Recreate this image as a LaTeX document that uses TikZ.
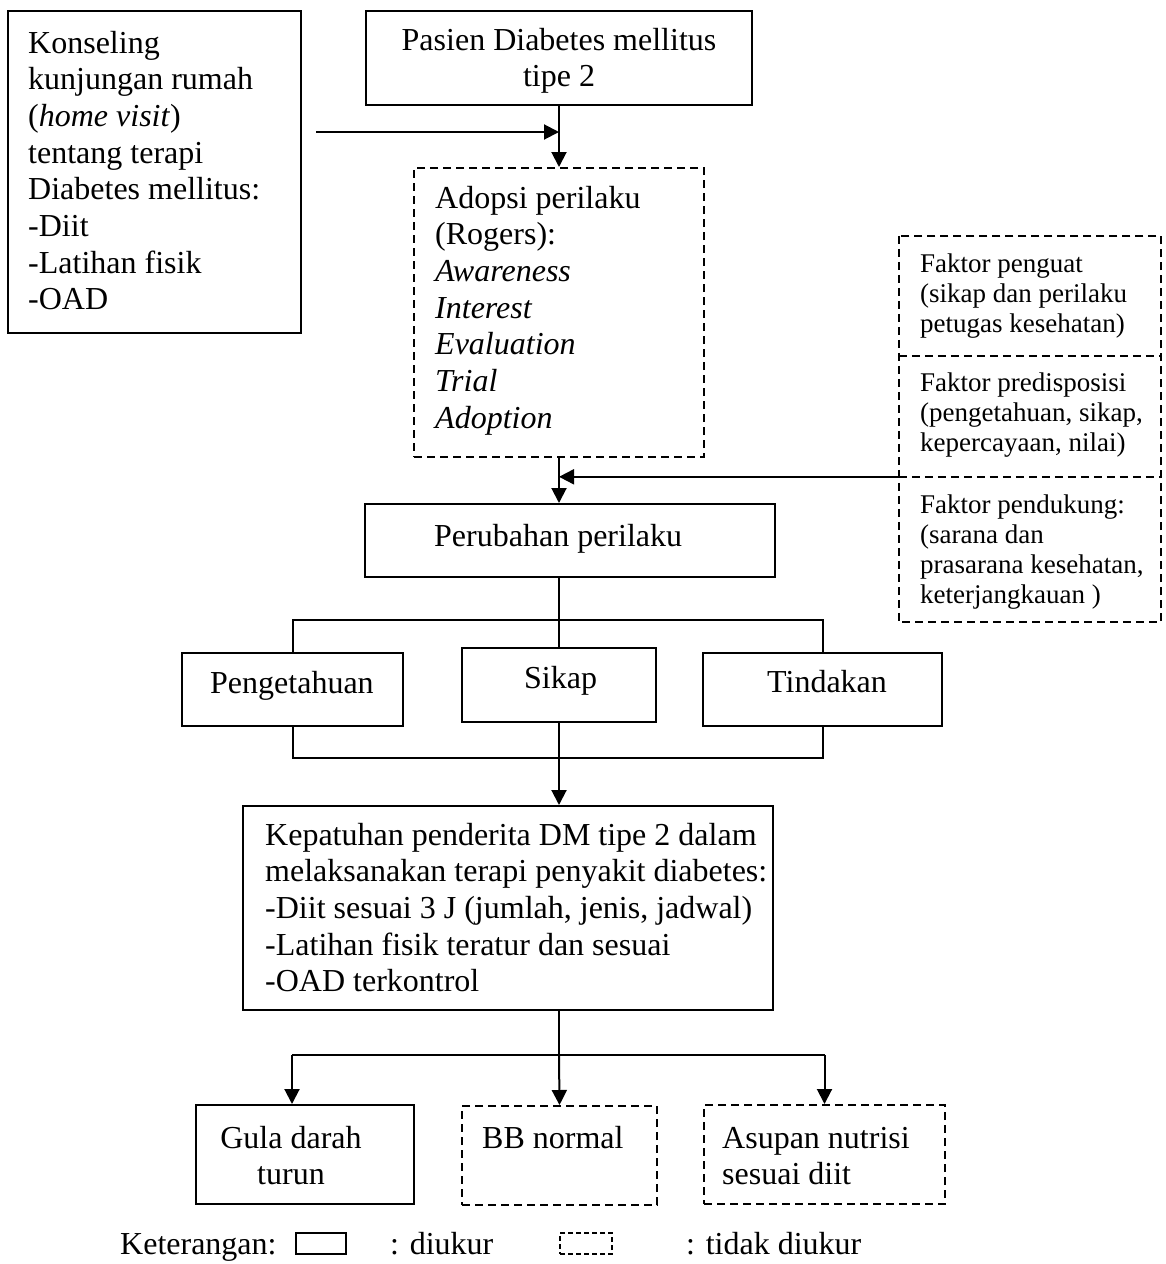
\documentclass[tikz,border=0pt]{standalone}
\usepackage{fontspec}
\setmainfont{Liberation Serif}
\usetikzlibrary{arrows.meta,fit}
\newcommand{\linesL}[1]{\begin{tabular}[t]{@{}l@{}}#1\end{tabular}}
\newcommand{\linesC}[1]{\begin{tabular}[t]{@{}c@{}}#1\end{tabular}}
\begin{document}
\begin{tikzpicture}[x=1pt,y=-1pt,
  sbox/.style={draw, line width=2pt, inner sep=0pt},
  dbox/.style={draw, line width=2pt, inner sep=0pt, dash pattern=on 8pt off 5pt},
  smalldbox/.style={draw, line width=1.6pt, inner sep=0pt, dash pattern=on 5pt off 3pt},
  hidden/.style={inner sep=0pt},
  ln/.style={line width=2pt},
  dln/.style={line width=2pt, dash pattern=on 8pt off 5pt},
  arr/.style={line width=2pt, -{Triangle[width=15pt,length=15pt]}},
  tl/.style={anchor=base west, inner sep=0pt, font={\fontsize{32}{36.7}\selectfont}},
  tc/.style={anchor=base, inner sep=0pt, font={\fontsize{32}{36.7}\selectfont}},
  ts/.style={anchor=base west, inner sep=0pt, font={\fontsize{27}{30}\selectfont}},
]
\fill[white] (0,0) rectangle (1166,1264);
\useasboundingbox (0,0) rectangle (1166,1264);

% boxes
\node[sbox, fit={(8,11)(301,333)}] (konsel) {};
\node[sbox, fit={(366,11)(752,105)}] (pasien) {};
\node[dbox, fit={(414,168)(704,457)}] (adopsi) {};
\node[hidden, fit={(899,236)(1161,356)}] (f1) {};
\node[hidden, fit={(899,356)(1161,477)}] (f2) {};
\node[hidden, fit={(899,477)(1161,622)}] (f3) {};
\draw[dln] (f1.north west) rectangle (f3.south east);
\draw[dln] (f1.south west) -- (f1.south east);
\draw[dln] (f2.south west) -- (f2.south east);
\node[sbox, fit={(365,504)(775,577)}] (perub) {};
\node[sbox, fit={(182,653)(403,726)}] (peng) {};
\node[sbox, fit={(462,648)(656,722)}] (sikap) {};
\node[sbox, fit={(703,653)(942,726)}] (tind) {};
\node[sbox, fit={(243,806)(773,1010)}] (kepat) {};
\node[sbox, fit={(196,1105)(414,1204)}] (gula) {};
\node[dbox, fit={(462,1106)(657,1205)}] (bb) {};
\node[dbox, fit={(704,1105)(945,1204)}] (asup) {};
\node[sbox, line width=1.6pt, fit={(296,1233)(346,1254)}] (legs) {};
\node[smalldbox, fit={(560,1233)(612,1254)}] (legd) {};

% connectors
\coordinate (kstart) at (316,132);
\draw[arr] (pasien.south) -- (adopsi.north);
\draw[arr] (kstart) -- (pasien.south |- kstart);
\draw[arr] (adopsi.south) -- (adopsi.south |- perub.north);
\draw[arr] (f3.north west) -- (adopsi.south |- f3.north west);

\coordinate (b1) at (559,620);
\draw[ln] (sikap.north |- perub.south) -- (sikap.north);
\draw[ln] (peng.north) -- (peng.north |- b1) -- (tind.north |- b1) -- (tind.north);

\coordinate (b2) at (559,758);
\draw[ln] (peng.south) -- (peng.south |- b2) -- (tind.south |- b2) -- (tind.south);
\draw[arr] (sikap.south) -- (sikap.south |- kepat.north);

\coordinate (b3) at (559,1055);
\coordinate (b3l) at (292,1055);
\coordinate (b3r) at (824.5,1055);
\draw[ln] (b3 |- kepat.south) -- (b3);
\draw[ln] (b3l) -- (b3r);
\draw[arr] (b3l) -- (b3l |- gula.north);
\draw[arr] (b3) -- (bb.north);
\draw[arr] (b3r) -- (asup.north);

% texts
\node[tl] (tkonsel) at (28,53) {\linesL{Konseling\\kunjungan rumah\\(\textit{home visit})\\tentang terapi\\Diabetes mellitus:\\-Diit\\-Latihan fisik\\-OAD}};
\node[tc] (tpasien) at (559,50) {\linesC{Pasien Diabetes mellitus\\tipe 2}};
\node[tl] (tadopsi) at (435,208) {\linesL{Adopsi perilaku\\(Rogers):\\\textit{Awareness}\\\textit{Interest}\\\textit{Evaluation}\\\textit{Trial}\\\textit{Adoption}}};
\node[ts] (tf1) at (920,272) {\linesL{Faktor penguat\\(sikap dan perilaku\\petugas kesehatan)}};
\node[ts] (tf2) at (920,391) {\linesL{Faktor predisposisi\\(pengetahuan, sikap,\\kepercayaan, nilai)}};
\node[ts] (tf3) at (920,513) {\linesL{Faktor pendukung:\\(sarana dan\\prasarana kesehatan,\\keterjangkauan )}};
\node[tl] (tperub) at (434,546) {Perubahan perilaku};
\node[tl] (tpeng) at (210,693) {Pengetahuan};
\node[tl] (tsikap) at (524,688) {Sikap};
\node[tl] (ttind) at (767,692) {Tindakan};
\node[tl] (tkepat) at (265,845) {\linesL{Kepatuhan penderita DM tipe 2 dalam\\melaksanakan terapi penyakit diabetes:\\-Diit sesuai 3 J (jumlah, jenis, jadwal)\\-Latihan fisik teratur dan sesuai\\-OAD terkontrol}};
\node[tc] (tgula) at (291,1148) {\linesC{Gula darah\\turun}};
\node[tl] (tbb) at (482,1148) {BB normal};
\node[tl] (tasup) at (722,1148) {\linesL{Asupan nutrisi\\sesuai diit}};
\node[tl] (tket) at (120,1254) {Keterangan:};
\node[tl] (tdiukur) at (390,1254) {: diukur};
\node[tl] (ttidak) at (686,1254) {: tidak diukur};
\end{tikzpicture}
\end{document}
